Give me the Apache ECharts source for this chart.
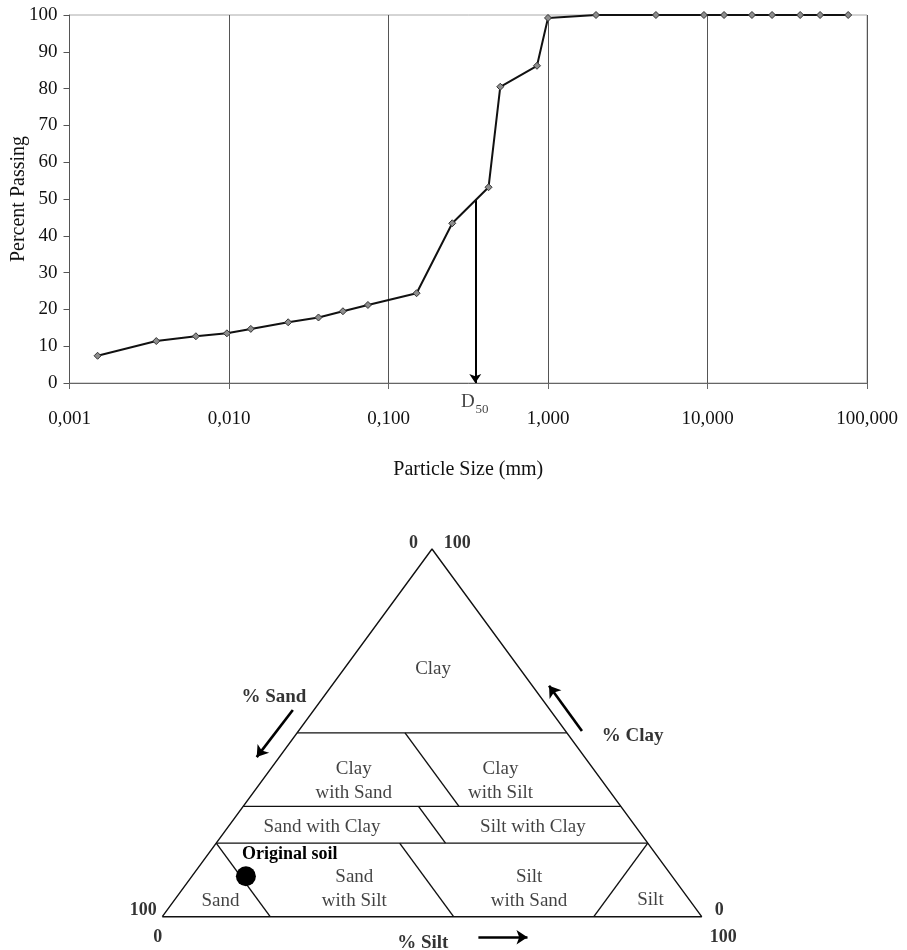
<!DOCTYPE html>
<html><head><meta charset="utf-8">
<script src="https://cdn.jsdelivr.net/npm/echarts@6/dist/echarts.min.js"></script>
<style>html,body{margin:0;padding:0;background:#fff}#c{width:907px;height:950px}</style>
</head><body><div id="c"></div>
<script>
// ---------- Grain size distribution (top chart) ----------
const sieveSizes = [0.0015,0.0035,0.0062,0.0097,0.0137,0.0235,0.0364,0.0518,0.0743,0.150,0.251,0.424,0.502,0.853,1.0,2.0,4.75,9.5,12.7,19.0,25.4,38.1,50.8,76.2];
const percentPassing = [7.4,11.4,12.7,13.5,14.7,16.5,17.8,19.5,21.2,24.4,43.4,53.2,80.5,86.2,99.2,100,100,100,100,100,100,100,100,100];
const d50Size = 0.35;
const d50Percent = 50;
const xAxisTitle = 'Particle Size (mm)';
const yAxisTitle = 'Percent Passing';

// ---------- Ternary classification (bottom chart), points as [sand, silt, clay] ----------
const triangleCorners = [[100,0,0],[0,0,100],[0,100,0],[100,0,0]];
const regionBoundaries = [
  [[50,0,50],[0,50,50]],
  [[70,0,30],[0,70,30]],
  [[80,0,20],[0,80,20]],
  [[30,20,50],[30,40,30]],
  [[37.5,32.5,30],[37.5,42.5,20]],
  [[46,34,20],[46,54,0]],
  [[80,0,20],[80,20,0]],
  [[0,80,20],[20,80,0]]
];
const originalSoil = [79, 10, 11];
const originalSoilLabel = 'Original soil';
const regionNames = ['Clay','Clay\nwith Sand','Clay\nwith Silt','Sand with Clay','Silt with Clay','Sand','Sand\nwith Silt','Silt\nwith Sand','Silt'];
const cornerTickLabels = ['0','100','100','0','0','100'];
const axisTitles = ['% Sand','% Clay','% Silt'];

// ---------- layout (text anchors in triangle plane, offsets in px) ----------
const regionLabelAnchors = [[50.2,67.4],[35.5,36.8],[62.7,37.0],[29.6,24.4],[68.7,24.4],[10.8,4.35],[35.6,7.5],[68.0,7.5],[90.5,4.5]];
const cornerLabelLayout = [
  {corner:[50,100], off:[-18.4,-6]}, {corner:[50,100], off:[25.3,-6]},
  {corner:[0,0], off:[-19,-6]}, {corner:[0,0], off:[-4.6,20.6]},
  {corner:[100,0], off:[17.6,-6]}, {corner:[100,0], off:[21.6,20.6]}
];
const axisTitleAnchors = [[20.7,59.6],[87.2,49.1],[48.3,-7.2]];
const axisArrowSegments = [[[24.2,56.2],[17.5,43.4]],[[77.8,50.5],[71.7,62.8]],[[58.6,-5.6],[67.7,-5.6]]];

const FONT = 'Liberation Serif, Times New Roman, serif';
const TXT = '#111';
const toXY = ([sand, silt, clay]) => [silt + clay / 2, clay];

const series = [];
// grading curve
series.push({
  type:'line', xAxisIndex:0, yAxisIndex:0,
  data: sieveSizes.map((s,i)=>[s, percentPassing[i]]),
  symbol:'diamond', symbolSize:7,
  lineStyle:{color:'#111', width:2},
  itemStyle:{color:'#8d8d8d', borderColor:'#333', borderWidth:1, opacity:1},
  silent:true, z:5,
  markLine:{
    silent:true, symbol:['none','arrow'], symbolSize:9, animation:false,
    lineStyle:{color:'#000', width:2, type:'solid'}, label:{show:false},
    data:[[{coord:[d50Size,d50Percent]},{coord:[d50Size,0]}]]
  }
});
// D50 label
series.push({
  type:'scatter', xAxisIndex:0, yAxisIndex:0, symbolSize:1, itemStyle:{color:'transparent'}, silent:true,
  clip:false,
  data:[
    {value:[d50Size,0], label:{show:true, position:'inside', formatter:'D', offset:[-7.3,18.7], fontSize:19, fontFamily:FONT, color:TXT}},
    {value:[d50Size,0], label:{show:true, position:'inside', formatter:'50', offset:[6.7,27], fontSize:13, fontFamily:FONT, color:TXT}}
  ]
});
// triangle outline
series.push({
  type:'line', xAxisIndex:1, yAxisIndex:1, data: triangleCorners.map(toXY),
  symbol:'none', lineStyle:{color:'#111', width:1.4}, silent:true, clip:false
});
// boundaries
regionBoundaries.forEach(seg=>{
  series.push({type:'line', xAxisIndex:1, yAxisIndex:1, data: seg.map(toXY), symbol:'none',
    lineStyle:{color:'#111', width:1.4}, silent:true, clip:false});
});
// axis direction arrows
series.push({
  type:'lines', coordinateSystem:'cartesian2d', xAxisIndex:1, yAxisIndex:1, silent:true, clip:false,
  symbol:['none','arrow'], symbolSize:11,
  lineStyle:{color:'#000', width:2.6, opacity:1, curveness:0},
  data: axisArrowSegments.map(s=>({coords:s}))
});
// region labels
series.push({
  type:'scatter', xAxisIndex:1, yAxisIndex:1, symbolSize:1, itemStyle:{color:'transparent'}, silent:true, clip:false,
  data: regionNames.map((n,i)=>({value:regionLabelAnchors[i], label:{show:true, position:'inside', formatter:n,
    fontSize:19, lineHeight:24, fontFamily:FONT, color:TXT}}))
});
// corner tick labels
series.push({
  type:'scatter', xAxisIndex:1, yAxisIndex:1, symbolSize:1, itemStyle:{color:'transparent'}, silent:true, clip:false,
  data: cornerTickLabels.map((t,i)=>({value:cornerLabelLayout[i].corner, label:{show:true, position:'inside', formatter:t,
    offset:cornerLabelLayout[i].off, fontSize:18, fontWeight:'bold', fontFamily:FONT, color:'#000'}}))
});
// axis titles
series.push({
  type:'scatter', xAxisIndex:1, yAxisIndex:1, symbolSize:1, itemStyle:{color:'transparent'}, silent:true, clip:false,
  data: axisTitles.map((t,i)=>({value:axisTitleAnchors[i], label:{show:true, position:'inside', formatter:t,
    fontSize:19, fontWeight:'bold', fontFamily:FONT, color:'#000'}}))
});
// original soil point
series.push({
  type:'scatter', xAxisIndex:1, yAxisIndex:1, symbolSize:20, itemStyle:{color:'#000', opacity:1}, silent:true, clip:false, z:6,
  data:[{value: toXY(originalSoil), label:{show:true, position:'inside', formatter:originalSoilLabel, align:'left',
    offset:[-4,-21.5], fontSize:18, fontWeight:'bold', fontFamily:FONT, color:'#000'}}]
});

const option = {
  animation:false,
  backgroundColor:'#fff',
  textStyle:{fontFamily:FONT},
  grid:[
    {left:69.5, top:15, width:797.5, height:368, show:true, borderColor:'#aaa', borderWidth:1, outerBoundsMode:'none', containLabel:false},
    {left:162.3, top:549, width:539.4, height:367.7, outerBoundsMode:'none', containLabel:false}
  ],
  xAxis:[
    {type:'log', gridIndex:0, logBase:10, min:0.001, max:100,
      axisLine:{show:true, lineStyle:{color:'#666', width:1}},
      axisTick:{show:true, length:6, lineStyle:{color:'#666'}},
      minorTick:{show:false}, minorSplitLine:{show:false},
      splitLine:{show:true, lineStyle:{color:'#555', width:1}},
      axisLabel:{fontSize:19, fontFamily:FONT, color:TXT, margin:27,
        formatter:v=>Math.pow(10, Math.round(Math.log10(v))).toFixed(3).replace('.', ',')},
      name:xAxisTitle, nameLocation:'middle', nameGap:77, nameMoveOverlap:false,
      nameTextStyle:{fontSize:20, fontFamily:FONT, color:TXT}},
    {type:'value', gridIndex:1, min:0, max:100, show:false}
  ],
  yAxis:[
    {type:'value', gridIndex:0, min:0, max:100, interval:10,
      axisLine:{show:true, lineStyle:{color:'#555', width:1}},
      axisTick:{show:true, length:6, lineStyle:{color:'#555'}},
      splitLine:{show:false},
      axisLabel:{fontSize:19, fontFamily:FONT, color:TXT, margin:12},
      name:yAxisTitle, nameLocation:'middle', nameGap:41, nameRotate:90, nameMoveOverlap:false,
      nameTextStyle:{fontSize:20, fontFamily:FONT, color:TXT}},
    {type:'value', gridIndex:1, min:0, max:100, show:false}
  ],
  series
};
const chart = echarts.init(document.getElementById('c'), null, {renderer:'canvas'});
chart.setOption(option);
</script></body></html>
